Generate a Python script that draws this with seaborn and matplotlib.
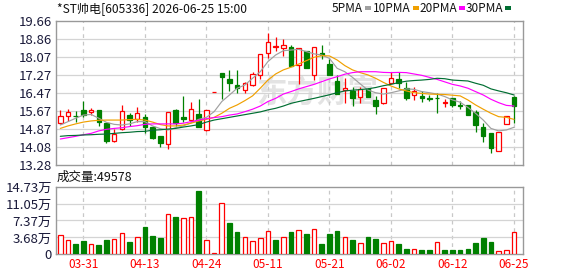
import numpy as np
import pandas as pd
import matplotlib
matplotlib.use("Agg")
import matplotlib.pyplot as plt
from matplotlib.patches import Rectangle
import seaborn as sns

sns.set_theme(style="white")
plt.rcParams["font.family"] = ["Noto Sans CJK SC", "DejaVu Sans"]

# ---------------- data ----------------
opens = [15.12, 15.44, 15.47, 15.72, 15.61, 15.72, 15.12, 14.36, 14.86, 15.49,
         15.30, 15.39, 14.98, 14.56, 14.21, 15.72, 15.42, 15.27, 15.52, 14.83,
         16.51, 17.34, 17.07, 16.82, 16.60, 16.82, 17.27, 18.23, 18.51, 18.45,
         18.49, 17.71, 18.33, 17.27, 18.23, 17.75, 17.00, 16.60, 16.56, 16.31,
         16.63, 16.16, 16.01, 16.90, 17.07, 16.67, 16.38, 16.34, 16.25, 16.25,
         16.03, 16.23, 15.95, 15.94, 15.64, 14.98, 14.68, 13.91, 15.08, 16.28]
highs = [15.72, 15.76, 15.66, 16.13, 15.80, 15.72, 15.17, 14.87, 15.94, 15.57,
         15.83, 15.54, 15.01, 14.56, 15.61, 15.74, 16.34, 16.08, 16.20, 15.72,
         16.51, 17.34, 17.49, 17.49, 16.97, 17.41, 18.18, 19.11, 18.96, 18.85,
         18.59, 18.45, 18.33, 18.49, 18.59, 17.96, 17.27, 17.12, 16.75, 16.75,
         16.67, 16.34, 16.67, 17.41, 17.41, 16.97, 16.75, 16.56, 16.38, 16.45,
         16.19, 16.23, 16.13, 15.94, 15.72, 15.15, 14.68, 14.73, 15.46, 16.34]
lows = [15.10, 15.24, 15.20, 15.39, 15.49, 15.01, 14.27, 14.31, 14.83, 15.01,
        15.20, 14.68, 14.42, 14.06, 13.97, 15.01, 15.20, 15.23, 14.98, 14.80,
        16.51, 16.19, 16.56, 16.48, 16.45, 16.79, 17.07, 18.00, 18.34, 18.12,
        17.68, 16.87, 17.56, 17.04, 17.96, 17.27, 16.42, 16.01, 15.89, 16.04,
        16.28, 15.52, 15.97, 16.90, 16.67, 16.16, 16.16, 16.08, 16.13, 15.60,
        15.86, 15.83, 15.75, 15.49, 14.76, 14.31, 13.83, 13.91, 15.08, 15.15]
closes = [15.43, 15.61, 15.45, 15.49, 15.72, 15.17, 14.36, 14.67, 15.66, 15.27,
          15.58, 14.98, 14.49, 14.24, 15.61, 15.15, 15.33, 15.75, 14.98, 15.72,
          16.51, 17.19, 16.90, 16.70, 16.90, 17.30, 18.18, 18.71, 18.54, 18.59,
          17.68, 18.45, 17.56, 18.49, 18.14, 17.27, 16.42, 16.70, 16.26, 16.63,
          16.28, 15.89, 16.67, 17.12, 16.90, 16.26, 16.56, 16.26, 16.22, 16.23,
          16.07, 15.94, 15.91, 15.49, 15.05, 14.56, 14.05, 14.73, 15.46, 15.89]
# volume in 万 (10k) shares
volumes = [4.21, 3.05, 2.25, 2.90, 2.25, 2.03, 3.12, 3.34, 4.57, 2.68,
           3.77, 5.95, 3.99, 3.63, 8.71, 8.13, 7.91, 8.10, 13.86, 3.12,
           0.29, 11.10, 6.82, 4.86, 3.77, 2.83, 3.56, 5.01, 3.12, 3.77,
           4.86, 5.22, 4.43, 5.51, 2.25, 4.43, 5.08, 3.77, 3.12, 2.47,
           3.77, 3.34, 2.47, 2.90, 2.25, 1.16, 1.16, 0.94, 0.94, 2.68,
           0.94, 0.94, 0.94, 1.16, 2.47, 3.63, 2.68, 0.73, 0.94, 4.96]
vol_up = [1, 1, 0, 0, 1, 0, 0, 1, 1, 0, 1, 0, 0, 0, 1, 0, 1, 1, 0, 1,
          1, 1, 0, 0, 1, 1, 1, 1, 0, 1, 0, 1, 0, 1, 0, 0, 0, 1, 0, 1,
          0, 0, 1, 1, 0, 0, 1, 0, 0, 1, 0, 0, 0, 0, 0, 0, 0, 1, 1, 1]
ma5 = [15.05, 15.20, 15.35, 15.49, 15.52, 15.35, 15.17, 15.08, 15.05, 15.10,
       15.20, 15.20, 15.01, 14.89, 14.83, 14.93, 15.01, 15.15, 15.30, 15.39,
       15.64, 16.09, 16.38, 16.68, 16.82, 17.12, 17.41, 17.86, 18.15, 18.34,
       18.37, 18.40, 18.30, 18.20, 18.15, 18.00, 17.56, 17.41, 17.16, 16.87,
       16.60, 16.48, 16.42, 16.48, 16.56, 16.65, 16.63, 16.53, 16.48, 16.42,
       16.31, 16.16, 16.06, 15.83, 15.57, 15.27, 14.90, 14.79, 14.83, 14.95]
ma10 = [14.90, 15.01, 15.10, 15.18, 15.23, 15.26, 15.27, 15.27, 15.27, 15.29,
        15.30, 15.27, 15.18, 15.07, 15.01, 15.01, 15.05, 15.13, 15.23, 15.30,
        15.39, 15.57, 15.79, 15.94, 16.13, 16.34, 16.68, 17.04, 17.31, 17.49,
        17.61, 17.75, 17.90, 18.05, 18.12, 18.11, 17.93, 17.68, 17.49, 17.37,
        17.27, 17.12, 16.94, 16.78, 16.65, 16.56, 16.48, 16.45, 16.42, 16.41,
        16.40, 16.37, 16.34, 16.16, 15.94, 15.75, 15.57, 15.42, 15.39, 15.30]
ma20 = [14.43, 14.49, 14.55, 14.62, 14.68, 14.79, 14.86, 14.90, 14.93, 14.98,
        15.02, 15.08, 15.10, 15.10, 15.10, 15.10, 15.13, 15.20, 15.26, 15.33,
        15.38, 15.42, 15.49, 15.54, 15.64, 15.75, 15.89, 16.09, 16.23, 16.42,
        16.53, 16.65, 16.75, 16.85, 16.97, 17.09, 17.19, 17.30, 17.37, 17.41,
        17.41, 17.41, 17.38, 17.37, 17.38, 17.37, 17.31, 17.25, 17.16, 17.07,
        16.96, 16.85, 16.78, 16.68, 16.53, 16.38, 16.19, 16.04, 15.92, 15.89]
ma30 = [14.55, 14.58, 14.59, 14.61, 14.62, 14.64, 14.65, 14.68, 14.71, 14.73,
        14.76, 14.77, 14.82, 14.84, 14.87, 14.90, 14.96, 15.01, 15.07, 15.18,
        15.27, 15.33, 15.39, 15.45, 15.51, 15.57, 15.63, 15.72, 15.79, 15.89,
        16.01, 16.09, 16.16, 16.23, 16.31, 16.39, 16.48, 16.56, 16.59, 16.62,
        16.65, 16.71, 16.79, 16.85, 16.93, 16.99, 17.02, 17.04, 17.07, 17.12,
        17.10, 17.04, 17.02, 17.00, 16.90, 16.81, 16.65, 16.56, 16.48, 16.38]
date_idx = [3, 11, 19, 27, 35, 43, 51, 59]
date_labels = ["03-31", "04-13", "04-24", "05-11", "05-21", "06-02", "06-12", "06-25"]
price_ticks = [13.28, 14.08, 14.87, 15.67, 16.47, 17.27, 18.07, 18.86, 19.66]
vol_ticks = [0, 3.68, 7.37, 11.05, 14.73]
vol_tick_labels = ["0", "3.68万", "7.37万", "11.05万", "14.73万"]
title = "*ST帅电[605336] 2026-06-25 15:00"
vol_label = "成交量:49578"
ma_names = ["5PMA", "10PMA", "20PMA", "30PMA"]

# ---------------- styling ----------------
RED = "#FF0000"
GREEN = "#008000"
MA_COLORS = ["#A0A0A0", "#F0A000", "#FF00FF", "#006E32"]
FRAME = "#999999"
GRID = "#D4D4D4"
VGRID = "#C8C8C8"
LABEL = "#1A1A3A"

W, H = 578, 276
fig = plt.figure(figsize=(W / 100, H / 100), dpi=100)
fig.patch.set_facecolor("white")


def fx(px):
    return px / W


def fy(py):
    return 1 - py / H


ax = fig.add_axes([fx(56), fy(165), fx(522.7) - fx(56), fy(20.9) - fy(165)])
axv = fig.add_axes([fx(56), fy(254.3), fx(522.7) - fx(56), fy(186.7) - fy(254.3)])

df = pd.DataFrame({"open": opens, "high": highs, "low": lows, "close": closes,
                   "vol": volumes, "vol_up": vol_up})
df["x"] = np.arange(len(df))
up = (df["close"] >= df["open"]).to_numpy()
cols = np.where(up, RED, GREEN)

for a in (ax, axv):
    a.set_facecolor("white")
    a.set_xlim(-0.56, 60.13)
    for s in a.spines.values():
        s.set_color(FRAME)
        s.set_linewidth(1.0)
    for xi in date_idx:
        a.axvline(xi, color=VGRID, lw=0.9, ls=(0, (3, 3)), zorder=1)

# watermark
ax.text(0.56, 0.505, "东方财富", transform=ax.transAxes, fontsize=22,
        fontweight="bold", color="#E3E3E3", ha="center", va="center", zorder=0.5)

# price grid
ax.set_ylim(price_ticks[0], price_ticks[-1])
for t in price_ticks[1:-1]:
    ax.axhline(t, color=GRID, lw=0.9, zorder=1)

# candles
ax.vlines(df["x"], df["low"], df["high"], colors=cols, lw=0.9, zorder=3)
body_bottom = np.minimum(df["open"], df["close"])
body_h = (df["close"] - df["open"]).abs()
ax.bar(df["x"], body_h, bottom=body_bottom, width=0.58,
       facecolor=np.where(up, "white", GREEN), edgecolor=cols, lw=0.9, zorder=4)

# moving averages
for vals, c in zip([ma5, ma10, ma20, ma30], MA_COLORS):
    sns.lineplot(x=df["x"], y=vals, ax=ax, color=c, lw=0.85, zorder=5)

ax.set_xlabel("")
ax.set_ylabel("")
ax.set_xticks([])
ax.set_yticks(price_ticks)
ax.set_yticklabels([f"{t:.2f}" for t in price_ticks], fontsize=9.5, color=LABEL)
ax.tick_params(axis="y", length=0, pad=3)

# volume
vup = df["vol_up"].to_numpy() == 1
axv.set_ylim(0, vol_ticks[-1])
for t in vol_ticks[1:-1]:
    axv.axhline(t, color=GRID, lw=0.9, zorder=1)
axv.bar(df["x"], df["vol"], width=0.6, facecolor=np.where(vup, "white", GREEN),
        edgecolor=np.where(vup, RED, GREEN), lw=0.9, zorder=3)
axv.set_yticks(vol_ticks)
axv.set_yticklabels(vol_tick_labels, fontsize=9.5, color=LABEL)
axv.set_xticks(date_idx)
axv.set_xticklabels(date_labels, fontsize=8.5, color=RED)
axv.tick_params(axis="y", length=0, pad=3)
axv.tick_params(axis="x", length=0, pad=3)
axv.set_xlabel("")
axv.set_ylabel("")

# texts
fig.text(fx(57), fy(9), title, fontsize=8.7, color="#111111", ha="left", va="center")
fig.text(fx(57), fy(177.5), vol_label, fontsize=9, color="#111111", ha="left", va="center")

# legend
sq_left = [365, 413, 459, 505]
for name, c, sl in zip(ma_names, MA_COLORS, sq_left):
    fig.text(fx(sl - 2), fy(8.5), name, fontsize=8.5, color="#111111",
             ha="right", va="center")
    fig.add_artist(Rectangle((fx(sl), fy(10)), fx(6), fy(6.5) - fy(10),
                             transform=fig.transFigure, facecolor=c,
                             edgecolor="none"))

fig.savefig("out.png", dpi=100, facecolor="white")
